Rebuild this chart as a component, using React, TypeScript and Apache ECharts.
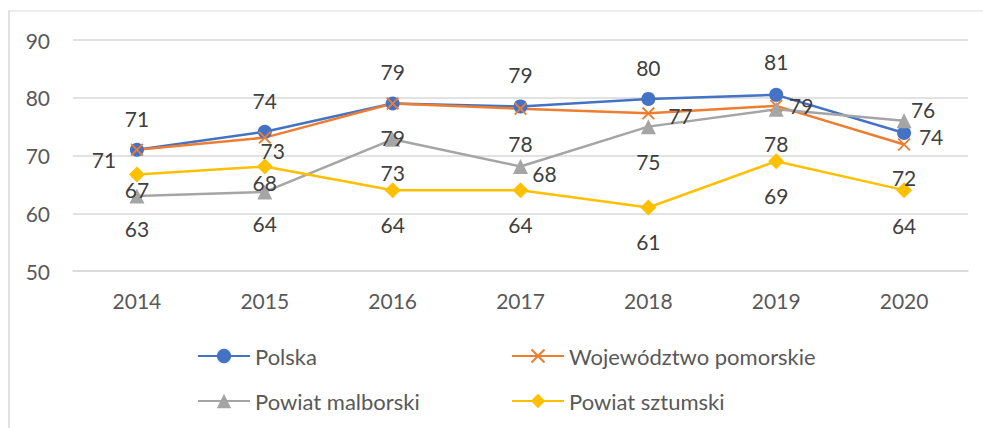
import React, { useEffect, useRef } from "react";
import * as echarts from "echarts";

const years = ["2014", "2015", "2016", "2017", "2018", "2019", "2020"];
const seriesNames = ["Polska", "Województwo pomorskie", "Powiat malborski", "Powiat sztumski"];
const polska = [71.0, 74.1, 79.0, 78.5, 79.8, 80.5, 73.9];
const pomorskie = [71.0, 73.1, 79.0, 78.1, 77.3, 78.6, 71.9];
const malborski = [63.0, 63.7, 72.8, 68.1, 75.0, 78.0, 76.0];
const sztumski = [66.7, 68.1, 64.0, 64.0, 61.0, 69.0, 64.0];

// label offsets (styling) per series, per point, relative to the marker centre
const polskaLabelOffsets = [[0, -31], [0, -31], [0, -32], [0, -32], [0, -31], [0, -33], [27, 4]];
const pomorskieLabelOffsets = [[-33, 10], [8, 13], [0, 34], [0, 35], [32, 2], [25, 0], [0, 33]];
const malborskiLabelOffsets = [[0, 33], [0, 32], [0, 33], [24, 7], [0, 35], [0, 34], [19, -11]];
const sztumskiLabelOffsets = [[0, 15], [0, 16], [0, 34], [0, 34], [0, 34], [0, 34], [0, 35]];

const FONT = "Lato, 'Open Sans', sans-serif";
const X_SYMBOL = "path://M1,0L5,4L9,0L10,1L6,5L10,9L9,10L5,6L1,10L0,9L4,5L0,1Z";

function buildData(values: number[], offsets: number[][]) {
  return values.map((v, i) => ({
    value: v,
    label: { position: "inside", offset: offsets[i] },
  }));
}

export default function App() {
  const ref = useRef<HTMLDivElement>(null);
  useEffect(() => {
    if (!ref.current) return;
    const chart = echarts.init(ref.current, null, { renderer: "svg" });
    const labelBase = {
      show: true,
      color: "#404040",
      fontSize: 21,
      fontFamily: FONT,
      formatter: (p: any) => String(Math.round(p.value)),
    };
    const mk = (name: string, values: number[], offsets: number[][], color: string, symbol: string, size: number) => ({
      name,
      type: "line",
      data: buildData(values, offsets),
      symbol,
      symbolSize: size,
      lineStyle: { color, width: 2.5 },
      itemStyle: { color },
      label: labelBase,
      emphasis: { disabled: true },
    });
    const legendBase = {
      itemWidth: 52,
      itemHeight: 18,
      itemGap: 20,
      textStyle: { fontSize: 22, fontFamily: FONT, color: "#595959" },
    };
    chart.setOption({
      animation: false,
      backgroundColor: "#ffffff",
      grid: { left: 73, right: 15, top: 40, bottom: 157 },
      xAxis: {
        type: "category",
        data: years,
        boundaryGap: true,
        axisLine: { show: true, lineStyle: { color: "#D9D9D9", width: 1.5 } },
        axisTick: { show: false },
        axisLabel: { margin: 19, fontSize: 21, fontFamily: FONT, color: "#595959" },
      },
      yAxis: {
        type: "value",
        min: 50,
        max: 90,
        interval: 10,
        axisLine: { show: false },
        axisTick: { show: false },
        splitLine: { lineStyle: { color: "#D9D9D9", width: 1.5 } },
        axisLabel: { margin: 23, fontSize: 21, fontFamily: FONT, color: "#595959" },
      },
      legend: [
        { ...legendBase, data: [seriesNames[0]], left: 192, top: 340 },
        { ...legendBase, data: [seriesNames[1]], left: 506, top: 340 },
        { ...legendBase, data: [seriesNames[2]], left: 192, top: 385 },
        { ...legendBase, data: [seriesNames[3]], left: 506, top: 385 },
      ],
      graphic: [
        { type: "line", shape: { x1: 8, y1: 11, x2: 983, y2: 11 }, style: { stroke: "#D9D9D9", lineWidth: 1 } },
        { type: "line", shape: { x1: 9, y1: 11, x2: 9, y2: 428 }, style: { stroke: "#D9D9D9", lineWidth: 1.5 } },
      ],
      series: [
        mk(seriesNames[0], polska, polskaLabelOffsets, "#4472C4", "circle", 14),
        mk(seriesNames[1], pomorskie, pomorskieLabelOffsets, "#ED7D31", X_SYMBOL, 13),
        mk(seriesNames[2], malborski, malborskiLabelOffsets, "#A5A5A5", "triangle", 15),
        mk(seriesNames[3], sztumski, sztumskiLabelOffsets, "#FFC000", "diamond", 16),
      ],
    });
    return () => chart.dispose();
  }, []);
  return (
    <div
      ref={ref}
      style={{ position: "fixed", left: 0, top: 0, width: 983, height: 428, background: "#fff" }}
    />
  );
}
